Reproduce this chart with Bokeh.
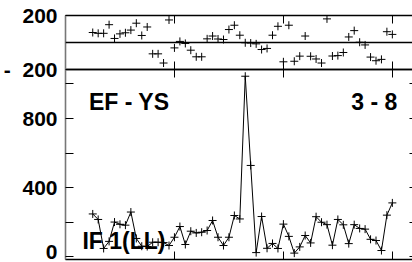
from bokeh.plotting import figure
from bokeh.models import Range1d, LinearAxis, FixedTicker, Span, Label
from bokeh.embed import file_html
from bokeh.resources import INLINE

# ---- data ----
x_idx = [5, 6, 7, 8, 9, 10, 11, 12, 13, 14, 15, 16, 17, 18, 19, 20, 21, 22, 23, 24,
         25, 26, 27, 28, 29, 30, 31, 32, 33, 34, 35, 36, 37, 38, 39, 40, 41, 42, 43, 44,
         45, 46, 47, 48, 49, 50, 51, 52, 53, 54, 55, 56, 57, 58, 59, 60]

top_vals = [74, 68, 68, 132, 30, 64, 72, 92, 143, 52, 115, -84, -84, -152, 167, -40,
            8, -7, -57, -106, -106, 27, 48, 26, 22, 96, 128, 54, -2, -4, -10, -52, -44,
            54, 120, -143, 128, -139, -101, 48, -102, -122, -152, 175, -100, -97, -74,
            41, 88, 2, -18, -108, -135, -125, 80, 60]

low_vals = [247, 215, 47, 88, 200, 187, 182, 258, 105, 60, 58, 83, 83, 81, 64, 112,
            174, 70, 147, 137, 141, 151, 209, 112, 64, 112, 238, 218, 1045, 528, 23,
            232, 48, 76, 47, 188, 117, 20, 56, 122, 79, 231, 199, 185, 66, 215, 184,
            75, 185, 163, 159, 100, 93, 35, 240, 311]

x_ticks = [0, 20, 40, 60]
top_yticks = [-200, 200]
low_yticks = [0, 200, 400, 600, 800, 1000]
low_ylabels = {0: "0", 200: "", 400: "400", 600: "", 800: "800", 1000: ""}

FONT = "Liberation Sans"
XR = (0, 63.7)

# panel geometry (pixels of the frame given to each panel)
TOP_PX, LOW_PX = 54, 190
TOP_LO, TOP_HI = -200, 200
LOW_LO, LOW_HI = -17, 1084

low_per_px = (LOW_HI - LOW_LO) / LOW_PX
top_per_px = (TOP_HI - TOP_LO) / TOP_PX
low_range_end = LOW_HI + TOP_PX * low_per_px
top_range_start = TOP_LO - LOW_PX * top_per_px

p = figure(width=412, height=262, output_backend="svg", toolbar_location=None,
           x_range=Range1d(*XR), y_range=Range1d(LOW_LO, low_range_end),
           x_axis_location=None, y_axis_location=None,
           min_border_left=65, min_border_right=0, min_border_top=15, min_border_bottom=3)
p.extra_y_ranges = {"top": Range1d(top_range_start, TOP_HI)}
p.outline_line_color = None
p.xgrid.visible = False
p.ygrid.visible = False


def x_axis(where, loc=None):
    ax = LinearAxis(ticker=FixedTicker(ticks=x_ticks))
    if loc is not None:
        ax.fixed_location = loc
    ax.major_label_text_font_size = "0px"
    ax.major_label_standoff = 0
    ax.major_tick_in = 8
    ax.major_tick_out = 0
    ax.minor_tick_in = 0
    ax.minor_tick_out = 0
    ax.axis_line_color = "black"
    ax.axis_line_width = 1.3
    ax.major_tick_line_color = "black"
    ax.major_tick_line_width = 1
    p.add_layout(ax, where)


x_axis("above")
x_axis("below")
# boundary between the two panels: ticks up into the top panel and down into the lower one
x_axis("below", LOW_HI)
x_axis("above", LOW_HI)

# left axis: lower panel ticks plus the two top-panel ticks placed at the panel's edges
left_ticks = low_yticks + [LOW_HI, low_range_end]
left_labels = dict(low_ylabels)
left_labels[LOW_HI] = "-\u00a0\u00a0200"
left_labels[low_range_end] = "200"
ya = LinearAxis(ticker=FixedTicker(ticks=left_ticks))
ya.major_label_overrides = left_labels
ya.major_label_text_font = FONT
ya.major_label_text_font_style = "bold"
ya.major_label_text_font_size = "21px"
ya.major_label_text_color = "black"
ya.major_label_standoff = 8
ya.major_tick_in = 8
ya.major_tick_out = 0
ya.minor_tick_in = 0
ya.minor_tick_out = 0
ya.axis_line_color = "#777777"
ya.axis_line_width = 1.6
ya.major_tick_line_color = "black"
ya.major_tick_line_width = 1
p.add_layout(ya, "left")

# right axis: only the inward tick stubs at the window edge
yr = LinearAxis(ticker=FixedTicker(ticks=low_yticks))
yr.major_label_text_font_size = "0px"
yr.major_label_standoff = 0
yr.major_tick_in = 3
yr.major_tick_out = 0
yr.minor_tick_in = 0
yr.minor_tick_out = 0
yr.axis_line_alpha = 0
yr.major_tick_line_color = "black"
p.add_layout(yr, "right")

# zero line of the top panel
p.add_layout(Span(location=0, dimension="width", y_range_name="top",
                  line_color="black", line_width=1.3))

for txt, xx, yy, align in [("EF - YS", 4.3, 893, "left"),
                           ("3 - 8", 60.9, 893, "right"),
                           ("IF 1(LL)", 3.1, 93, "left")]:
    lab = Label(x=xx, y=yy, text=txt, text_font=FONT, text_font_style="bold",
                text_font_size="23px", text_align=align, text_baseline="alphabetic",
                text_color="black")
    lab.level = "underlay"
    p.add_layout(lab)

p.scatter(x_idx, top_vals, marker="cross", size=8, line_color="black", line_width=1,
          y_range_name="top")
p.line(x_idx, low_vals, line_color="black", line_width=1)
p.scatter(x_idx, low_vals, marker="cross", size=8, line_color="black", line_width=1)

open("out.html", "w").write(file_html(p, INLINE))
